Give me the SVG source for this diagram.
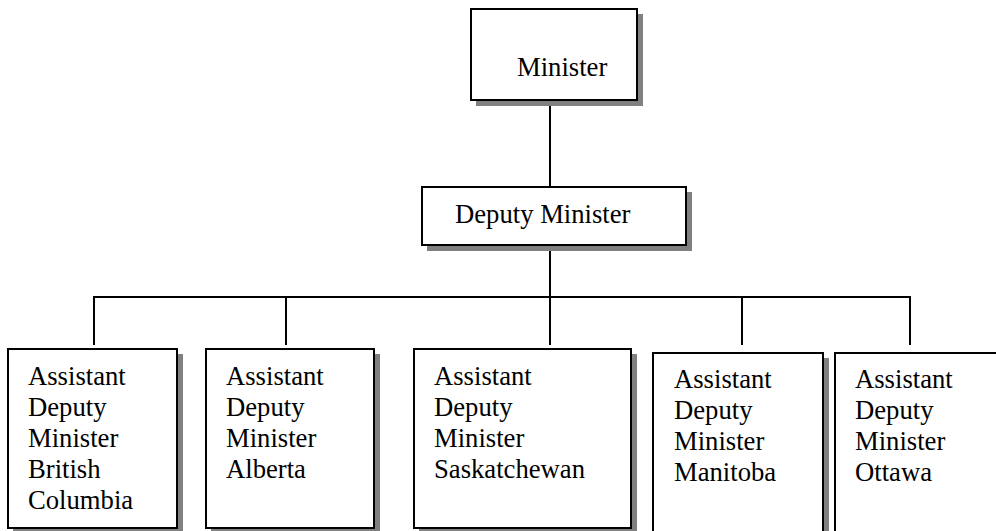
<svg xmlns="http://www.w3.org/2000/svg" width="996" height="531" viewBox="0 0 996 531">
<defs>
<style>
.box{fill:#fff;stroke:#000;stroke-width:2}
.shadow{fill:#808080}
.t{font-family:"Liberation Serif","Times New Roman",serif;font-size:26.67px;fill:#000}
.c{fill:none;stroke:#000;stroke-width:2}
</style>
</defs>
<rect width="996" height="531" fill="#fff"/>
<g id="connectors">
<line class="c" x1="550" y1="104" x2="550" y2="187"/>
<line class="c" x1="550" y1="250" x2="550" y2="345"/>
<line class="c" x1="93" y1="297" x2="911" y2="297"/>
<line class="c" x1="94" y1="297" x2="94" y2="345"/>
<line class="c" x1="286" y1="297" x2="286" y2="345"/>
<line class="c" x1="742" y1="297" x2="742" y2="345"/>
<line class="c" x1="910" y1="297" x2="910" y2="345"/>
</g>
<g id="minister">
<rect class="shadow" x="476" y="14" width="167" height="92"/>
<rect class="box" x="471" y="9" width="166" height="91"/>
<text class="t" x="517" y="76">Minister</text>
</g>
<g id="deputy">
<rect class="shadow" x="427" y="192" width="265" height="59"/>
<rect class="box" x="422" y="187" width="264" height="58"/>
<text class="t" x="455" y="223">Deputy Minister</text>
</g>
<g id="adm-bc">
<rect class="shadow" x="13" y="354" width="170" height="180"/>
<rect class="box" x="8" y="349" width="169" height="179"/>
<text class="t" x="28" y="385">Assistant</text>
<text class="t" x="28" y="416">Deputy</text>
<text class="t" x="28" y="447">Minister</text>
<text class="t" x="28" y="478">British</text>
<text class="t" x="28" y="509">Columbia</text>
</g>
<g id="adm-ab">
<rect class="shadow" x="211" y="354" width="169" height="180"/>
<rect class="box" x="206" y="349" width="168" height="179"/>
<text class="t" x="226" y="385">Assistant</text>
<text class="t" x="226" y="416">Deputy</text>
<text class="t" x="226" y="447">Minister</text>
<text class="t" x="226" y="478">Alberta</text>
</g>
<g id="adm-sk">
<rect class="shadow" x="419" y="354" width="218" height="180"/>
<rect class="box" x="414" y="349" width="217" height="179"/>
<text class="t" x="434" y="385">Assistant</text>
<text class="t" x="434" y="416">Deputy</text>
<text class="t" x="434" y="447">Minister</text>
<text class="t" x="434" y="478">Saskatchewan</text>
</g>
<g id="adm-mb">
<rect class="shadow" x="658" y="358" width="171" height="180"/>
<rect class="box" x="653" y="353" width="170" height="179"/>
<text class="t" x="674" y="388">Assistant</text>
<text class="t" x="674" y="419">Deputy</text>
<text class="t" x="674" y="450">Minister</text>
<text class="t" x="674" y="481">Manitoba</text>
</g>
<g id="adm-ot">
<rect class="shadow" x="840" y="358" width="170" height="180"/>
<rect class="box" x="835" y="353" width="169" height="179"/>
<text class="t" x="855" y="388">Assistant</text>
<text class="t" x="855" y="419">Deputy</text>
<text class="t" x="855" y="450">Minister</text>
<text class="t" x="855" y="481">Ottawa</text>
</g>
</svg>
